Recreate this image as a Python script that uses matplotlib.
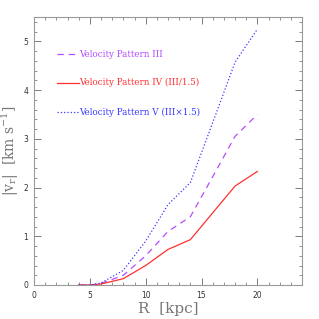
import numpy as np
import matplotlib.pyplot as plt
from matplotlib.ticker import MultipleLocator

plt.rcParams['mathtext.fontset'] = 'dejavuserif'

# radius (kpc) and |v_r| (km/s)
R = [4, 5, 6, 8, 10, 12, 14, 16, 18, 20]
v_iv = [0.0, 0.0, 0.02, 0.13, 0.40, 0.73, 0.93, 1.48, 2.03, 2.33]
v_iii = [0.0, 0.0, 0.03, 0.20, 0.60, 1.10, 1.40, 2.22, 3.05, 3.50]
v_v = [0.0, 0.0, 0.04, 0.30, 0.90, 1.65, 2.10, 3.33, 4.57, 5.25]

labels = ['Velocity Pattern III', 'Velocity Pattern IV (III/1.5)',
          'Velocity Pattern V (III\u00d71.5)']
colors = ['#b44cff', '#ff3030', '#3a3aff']
styles = [(0, (5, 4)), '-', ':']

fig = plt.figure(figsize=(3.19, 3.19), dpi=100)
ax = fig.add_axes([34/319, 1 - 285/319, 268/319, 268/319])

ax.plot(R, v_iii, color=colors[0], ls=styles[0], lw=0.9)
ax.plot(R, v_iv, color=colors[1], ls=styles[1], lw=0.9)
ax.plot(R, v_v, color=colors[2], ls=styles[2], lw=0.9)

# hand-made legend inside the plot
leg_y = [4.74, 4.15, 3.55]
for y, lab, c, s in zip(leg_y, labels, colors, styles):
    ax.plot([2.05, 4.0], [y, y], color=c, ls=s, lw=0.9)
    ax.text(4.05, y, lab, color=c, fontsize=6.3, family='DejaVu Serif',
            va='center', ha='left')

ax.set_xlim(0, 24)
ax.set_ylim(0, 5.5)
ax.xaxis.set_major_locator(MultipleLocator(5))
ax.xaxis.set_minor_locator(MultipleLocator(1))
ax.yaxis.set_major_locator(MultipleLocator(1))
ax.yaxis.set_minor_locator(MultipleLocator(0.2))
ax.tick_params(which='both', direction='in', top=True, right=True,
               colors='#666666', labelsize=5.5, labelcolor='#333333', pad=4)
ax.tick_params(which='major', length=5, width=0.6)
ax.tick_params(which='minor', length=2.5, width=0.5)
for sp in ax.spines.values():
    sp.set_color('#999999')
    sp.set_linewidth(0.8)

ax.set_xlabel('R  [kpc]', fontsize=11, color='#777777', family='DejaVu Serif',
              labelpad=2)
ax.set_ylabel(r'$|\mathrm{v_r}|\ \ [\mathrm{km\ s^{-1}}]$', fontsize=10,
              color='#777777', labelpad=2)

fig.savefig('out.png', dpi=100)
